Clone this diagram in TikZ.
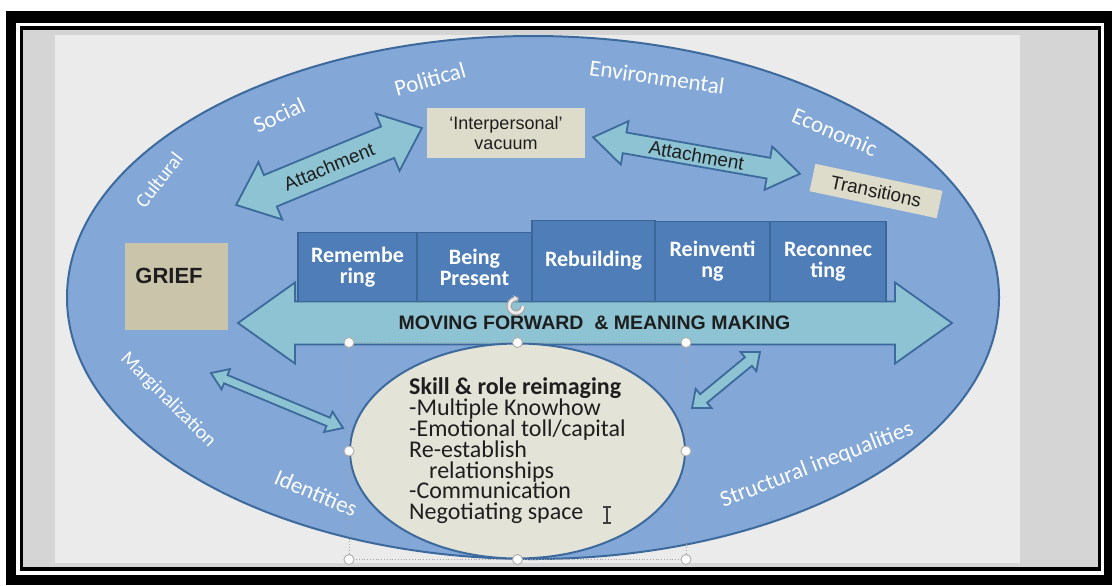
\documentclass[tikz,border=0pt]{standalone}
\usepackage{fontspec}
\setmainfont{Liberation Sans}
\newfontfamily\calibri{Carlito}
\usetikzlibrary{arrows.meta, shapes.geometric, positioning}

\definecolor{slidegrey}{HTML}{EBEBEB}
\definecolor{backgrey}{HTML}{D5D5D5}
\definecolor{ovalblue}{HTML}{83A7D6}
\definecolor{ovaledge}{HTML}{3D6A9D}
\definecolor{stepblue}{HTML}{4E7DB7}
\definecolor{stepedge}{HTML}{3A6698}
\definecolor{arrowteal}{HTML}{8DC3D2}
\definecolor{notebeige}{HTML}{DDDBC9}
\definecolor{griefbeige}{HTML}{C9C4AA}
\definecolor{skillbeige}{HTML}{E4E3D8}
\definecolor{inkdark}{HTML}{1E1E1E}

\tikzset{
    stepbox/.style={draw=stepedge, fill=stepblue, line width=0.9pt, inner sep=0pt, outer sep=0pt,
        align=center, text=white, font=\calibri\bfseries\fontsize{11}{10.5}\selectfont},
    notebox/.style={fill=notebeige, inner sep=0pt, align=center, text=inkdark},
    rimword/.style={text=white, inner sep=0pt, font=\calibri\fontsize{11.5}{12}\selectfont},
    handle/.style={circle, draw=gray!60, fill=white, line width=0.5pt, inner sep=0pt, minimum size=5pt},
    arrowbody/.style={draw=ovaledge, fill=arrowteal, line width=0.9pt, line join=miter},
    pics/dblarrow/.style args={#1/#2/#3/#4}{code={
        \draw[arrowbody] (-#1,0) -- (-#1+#4,#3) -- (-#1+#4,#2) -- (#1-#4,#2) -- (#1-#4,#3)
            -- (#1,0) -- (#1-#4,-#3) -- (#1-#4,-#2) -- (-#1+#4,-#2) -- (-#1+#4,-#3) -- cycle;
    }}
}

\begin{document}
\begin{tikzpicture}[x=0.5pt, y=-0.5pt]
    \useasboundingbox (0,0) rectangle (1112,585);
    % screen frame and slide
    \fill[white] (0,0) rectangle (1112,585);
    \fill[black] (6,11) rectangle (1112,585);
    \fill[white] (16,22.5) rectangle (1104,575);
    \fill[black] (19.5,26) rectangle (1101,570.5);
    \fill[backgrey] (23,30) rectangle (1098,567);
    \fill[slidegrey] (55,35) rectangle (1020,563);

    % outer oval and its words
    \node[ellipse, draw=ovaledge, fill=ovalblue, line width=1pt, inner sep=0pt,
        minimum width=466pt, minimum height=261.5pt] (world) at (533,297.5) {};
    \node[rimword, font=\calibri\fontsize{10}{12}\selectfont, rotate=52] (cultural) at (159,180) {Cultural};
    \node[rimword, rotate=25] (social) at (279,115) {Social};
    \node[rimword, rotate=16] (political) at (430,79) {Political};
    \node[rimword, rotate=-8] (environ) at (657,77) {Environmental};
    \node[rimword, rotate=-23] (economic) at (835,132) {Economic};
    \node[rimword, font=\calibri\fontsize{10}{12}\selectfont, rotate=-45] (margin) at (168,400) {Marginalization};
    \node[rimword, rotate=-23] (identity) at (316,493) {Identities};
    \node[rimword, rotate=21] (structural) at (817,465) {Structural inequalities};

    % boxes
    \node[notebox, minimum width=79pt, minimum height=25pt, font=\fontsize{9}{10}\selectfont]
        (vacuum) at (506,133) {`Interpersonal'\\vacuum};
    \node[notebox, rotate=-12, minimum width=65pt, minimum height=14pt, font=\fontsize{9.5}{10}\selectfont]
        (transit) at (876,191) {Transitions};
    \node[notebox, fill=griefbeige, minimum width=51.5pt, minimum height=43.5pt] (grief) at (176.5,286.5) {};
    \node[text=inkdark, inner sep=0pt, font=\bfseries\fontsize{11}{12}\selectfont] (griefword) at (169,276) {GRIEF};

    % attachment arrows
    \coordinate (attleft) at (329,166.5);
    \coordinate (attright) at (696.5,155.5);
    \pic[rotate=22.5] at (attleft) {dblarrow=100.5/17/31/37};
    \node[rotate=22.5, text=inkdark, font=\fontsize{9.5}{10}\selectfont] (attleftword) at (attleft) {Attachment};
    \pic[rotate=-10] at (attright) {dblarrow=105/10.5/22/32};
    \node[rotate=-10, text=inkdark, font=\fontsize{9.5}{10}\selectfont] (attrightword) at (attright) {Attachment};

    % moving forward arrow and the five steps
    \coordinate (forward) at (595,323);
    \pic at (forward) {dblarrow=357/21.5/40.5/57};
    \node[stepbox, anchor=south west, minimum width=59.5pt, minimum height=34.5pt] (remember) at (298,301.5) {Remembe\\ring};
    \node[stepbox, anchor=south west, minimum width=57.5pt, minimum height=34.5pt] (present) at (remember.south east) {Being\\Present};
    \node[stepbox, anchor=south west, minimum width=61.5pt, minimum height=40.5pt] (rebuild) at (present.south east) {Rebuilding};
    \node[stepbox, anchor=south west, minimum width=57.5pt, minimum height=40pt] (reinvent) at (rebuild.south east) {Reinventi\\ng};
    \node[stepbox, anchor=south west, minimum width=58pt, minimum height=40pt] (reconnect) at (reinvent.south east) {Reconnec\\ting};

    % small links
    \coordinate (linkleft) at (277,400.5);
    \coordinate (linkright) at (726,380);
    \pic[rotate=-22.6] at (linkleft) {dblarrow=71.5/4.5/11/16};
    \pic[rotate=39.5] at (linkright) {dblarrow=44/5.5/12.5/15};

    % skill oval
    \node[ellipse, draw=ovaledge, fill=skillbeige, line width=1pt, inner sep=0pt,
        minimum width=167.5pt, minimum height=107.5pt, align=left, text=inkdark,
        font=\calibri\fontsize{12}{10.4}\selectfont] (skill) at (517.5,451)
        {\textbf{Skill \& role reimaging}\\-Multiple Knowhow\\-Emotional toll/capital\\Re-establish\\
         \hspace*{10pt}relationships\\-Communication\\Negotiating space};

    % selection frame
    \coordinate (turn) at (516,306);
    \draw[gray!60, line width=0.4pt] (turn) -- (skill.north);
    \node[text=inkdark, font=\bfseries\fontsize{9.75}{10}\selectfont] (movingword) at (594.5,323)
        {MOVING FORWARD~ \& MEANING MAKING};
    \draw[gray!70, line width=2.6pt] (turn) ++(7,0) arc[start angle=0, end angle=290, radius=7];
    \draw[gray!15, line width=1.4pt, -{Stealth[length=3pt]}] (turn) ++(7,0) arc[start angle=0, end angle=290, radius=7];
    \draw[gray!70, densely dotted, line width=0.4pt] (skill.west |- skill.north) rectangle (skill.east |- skill.south);
    \foreach \spot [count=\k] in {skill.west |- skill.north, skill.north, skill.east |- skill.north,
        skill.west, skill.east, skill.west |- skill.south, skill.south, skill.east |- skill.south}
        \node[handle] (grip\k) at (\spot) {};
    \draw[gray!50!black, line width=0.6pt] (607,507) -- (607,523) (603,507) -- (611,507) (603,523) -- (611,523);
\end{tikzpicture}
\end{document}
